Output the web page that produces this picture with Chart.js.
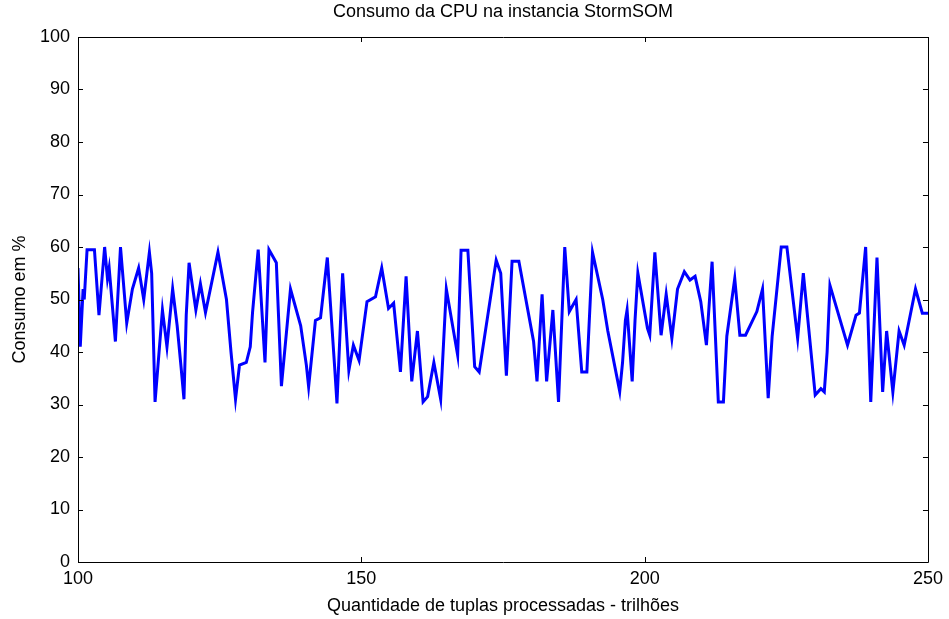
<!DOCTYPE html>
<html>
<head>
<meta charset="utf-8">
<script src="https://cdn.jsdelivr.net/npm/chart.js@4/dist/chart.umd.min.js"></script>
<style>
  html, body { margin: 0; padding: 0; background: #fff; }
  #wrap { width: 949px; height: 619px; }
</style>
</head>
<body>
<div id="wrap"><canvas id="cpuChart" width="949" height="619"></canvas></div>
<script>
    // values (x = trillions of tuples, y = CPU %)
    const xValues = [
      100.0, 100.4, 100.9, 101.1, 101.6, 102.9, 103.7, 104.7, 105.2, 105.5,
      106.6, 107.5, 108.6, 109.6, 110.7, 111.6, 112.6, 113.0, 113.6, 114.9,
      115.7, 116.7, 117.5, 118.2, 118.7, 119.1, 119.6, 120.0, 120.8, 121.6,
      122.5, 124.7, 126.2, 127.0, 127.8, 128.5, 129.7, 130.4, 130.8, 131.8,
      133.0, 133.7, 135.0, 135.9, 137.5, 139.3, 140.3, 140.7, 141.9, 142.8,
      144.0, 145.3, 145.7, 146.7, 147.8, 148.6, 149.6, 151.0, 152.5, 153.6,
      154.8, 155.7, 156.9, 157.9, 158.9, 159.9, 160.9, 161.7, 162.8, 164.0,
      165.0, 167.0, 167.6, 168.8, 170.0, 170.8, 173.8, 174.6, 175.6, 176.6,
      177.8, 180.4, 181.0, 181.9, 182.7, 183.8, 184.8, 185.9, 186.7, 187.9,
      188.9, 189.8, 190.8, 192.6, 193.5, 195.6, 196.1, 196.6, 196.9, 197.8,
      198.3, 198.8, 200.5, 200.9, 201.8, 202.9, 203.8, 204.8, 205.8, 207.0,
      208.0, 208.9, 209.9, 210.9, 211.9, 213.0, 213.9, 214.5, 215.9, 216.8,
      217.8, 219.8, 220.8, 221.8, 222.5, 224.1, 225.1, 227.0, 228.0, 230.1,
      231.1, 231.7, 232.2, 232.7, 235.8, 237.3, 237.9, 239.0, 239.9, 241.0,
      242.0, 242.7, 243.8, 244.9, 245.8, 247.8, 249.0, 250.0
    ];
    const cpuValues = [
      56, 41, 52, 50, 59.5, 59.5, 47, 60, 54, 56,
      42, 60, 45.5, 52, 56, 50, 59, 55, 30.5, 48,
      41, 52, 45, 37, 31, 47, 57, 54, 48, 53,
      47.5, 59, 50, 40, 31, 37.5, 38, 41, 47.5, 59.5,
      38, 59.5, 57, 33.5, 52, 45, 37.5, 33.4, 46, 46.5,
      58, 37, 30.2, 55, 36.5, 41.3, 38.4, 49.6, 50.5, 56,
      48.3, 49.3, 36.2, 54.4, 34.4, 44, 30.5, 31.5, 38, 31,
      52, 39.4, 59.4, 59.4, 37.2, 36.2, 57.5, 55, 35.5, 57.3,
      57.3, 42, 34.4, 51, 34.4, 48, 30.5, 60, 47.7, 50,
      36.2, 36.2, 59, 50, 44, 32.5, 38, 46, 48, 34.4,
      46, 55, 44.5, 43.2, 59, 43.2, 51, 42.6, 52, 55.3,
      53.7, 54.4, 49.6, 41.3, 57.2, 30.5, 30.5, 43, 54, 43.2,
      43.2, 47.7, 52, 31.2, 43, 60, 60, 42.6, 55, 31.8,
      33, 32.4, 40, 52.7, 41.3, 47, 47.4, 60, 30.5, 58,
      32.4, 44, 32.4, 44, 41.3, 52, 47.4, 47.4
    ];
    const xTicks = [100, 150, 200, 250];
    const yTicks = [0, 10, 20, 30, 40, 50, 60, 70, 80, 90, 100];

    const chartTitle = "Consumo da CPU na instancia StormSOM";
    const xTitle = "Quantidade de tuplas processadas - trilhões";
    const yTitle = "Consumo em %";

    const fontFamily = "'Liberation Sans', Arial, sans-serif";
    const fontSize = 18;

    // box around the plot, inward ticks and the title, matlab style
    const frameTicks = {
      id: "frameTicks",
      afterDraw(chart) {
        const ctx = chart.ctx;
        const a = chart.chartArea;
        const xs = chart.scales.x;
        const ys = chart.scales.y;
        const len = 5;
        ctx.save();
        ctx.strokeStyle = "#000";
        ctx.lineWidth = 1;
        ctx.beginPath();
        ctx.rect(Math.round(a.left) + 0.5, Math.round(a.top) + 0.5,
                 Math.round(a.right - a.left), Math.round(a.bottom - a.top));
        xTicks.forEach(v => {
          const px = Math.round(xs.getPixelForValue(v)) + 0.5;
          ctx.moveTo(px, a.bottom); ctx.lineTo(px, a.bottom - len);
          ctx.moveTo(px, a.top); ctx.lineTo(px, a.top + len);
        });
        yTicks.forEach(v => {
          const py = Math.round(ys.getPixelForValue(v)) + 0.5;
          ctx.moveTo(a.left, py); ctx.lineTo(a.left + len, py);
          ctx.moveTo(a.right, py); ctx.lineTo(a.right - len, py);
        });
        ctx.stroke();

        ctx.fillStyle = "#000";
        ctx.font = fontSize + "px " + fontFamily;
        ctx.textAlign = "center";
        ctx.textBaseline = "middle";
        ctx.fillText(chartTitle, (a.left + a.right) / 2, 12);
        ctx.restore();
      }
    };

    const ctx = document.getElementById("cpuChart").getContext("2d");

    new Chart(ctx, {
      type: "line",
      data: {
        datasets: [{
          data: xValues.map((x, i) => ({ x: x, y: cpuValues[i] })),
          borderColor: "#0000ff",
          borderWidth: 3,
          pointRadius: 0,
          tension: 0,
          fill: false
        }]
      },
      options: {
        responsive: false,
        animation: false,
        layout: { padding: { top: 37, right: 19, bottom: 0, left: 0 } },
        plugins: {
          legend: { display: false },
          tooltip: { enabled: false }
        },
        scales: {
          x: {
            type: "linear",
            min: 100,
            max: 250,
            afterBuildTicks: s => { s.ticks = xTicks.map(v => ({ value: v })); },
            afterFit: s => { s.height = 57; },
            grid: { display: false, drawTicks: false },
            border: { display: false },
            ticks: {
              color: "#000",
              padding: 6,
              maxRotation: 0,
              font: { family: fontFamily, size: fontSize }
            },
            title: {
              display: true,
              text: xTitle,
              color: "#000",
              padding: { top: 0, bottom: 2 },
              font: { family: fontFamily, size: fontSize }
            }
          },
          y: {
            min: 0,
            max: 100,
            afterBuildTicks: s => { s.ticks = yTicks.map(v => ({ value: v })); },
            afterFit: s => { s.width = 78; },
            grid: { display: false, drawTicks: false },
            border: { display: false },
            ticks: {
              color: "#000",
              padding: 8,
              font: { family: fontFamily, size: fontSize }
            },
            title: {
              display: true,
              text: yTitle,
              color: "#000",
              padding: { top: 9, bottom: 0 },
              font: { family: fontFamily, size: fontSize }
            }
          }
        }
      },
      plugins: [frameTicks]
    });
</script>
</body>
</html>
